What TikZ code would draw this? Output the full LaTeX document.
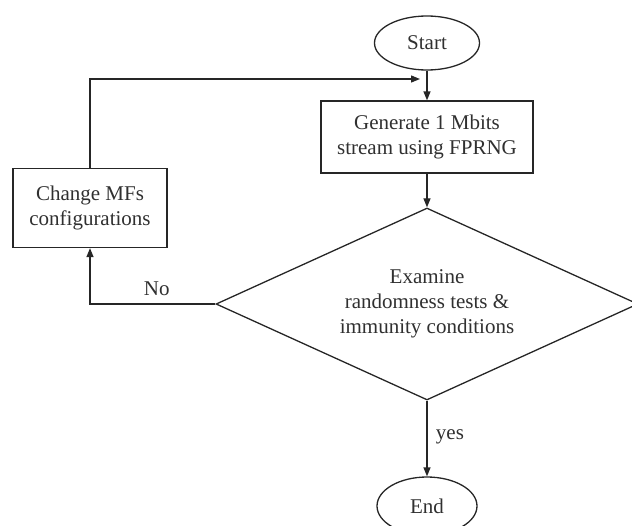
\documentclass[tikz,border=0pt]{standalone}
\usepackage{fontspec}
\setmainfont{Liberation Serif}
\usetikzlibrary{arrows.meta, shapes.geometric, positioning}
\definecolor{linecolor}{HTML}{262626}
\definecolor{textcolor}{HTML}{303030}

\begin{document}
\begin{tikzpicture}[
    x=1pt, y=-1pt,
    every node/.style={font=\fontsize{21}{25}\selectfont, text=textcolor},
    term/.style={draw=linecolor, line width=1.3pt, ellipse, inner sep=0pt},
    proc/.style={draw=linecolor, line width=1.3pt, rectangle, align=center, inner sep=0pt},
    test/.style={draw=linecolor, line width=1.3pt, diamond, aspect=2.2, align=center, inner sep=0pt},
    flow/.style={draw=linecolor, line width=1.3pt, -{Triangle[length=9pt, width=7pt]}},
]
\useasboundingbox (0,0) rectangle (632,525);

% ================================================================ the steps
\node[term, minimum width=105pt, minimum height=54pt] (start) at (427,43) {Start};
\node[proc, minimum width=212pt, minimum height=72pt] (gen) at (427,137)
    {Generate 1 Mbits\\stream using FPRNG};
\node[test, minimum width=422pt, minimum height=192pt] (exam) at (427,304)
    {Examine\\randomness tests \&\\immunity conditions};
\node[proc, minimum width=154pt, minimum height=79pt] (change) at (90,208)
    {Change MFs\\configurations};
\node[term, minimum width=100pt, minimum height=58pt] (finish) at (427,506) {End};

% ================================================================ the flow
\draw[flow] (start) -- (gen);
\draw[flow] (gen) -- (exam);

% back round to the generator
\coordinate (rejoin) at (420,79);
\draw[flow] (change.north) |- (rejoin);
\draw[flow] (exam.west) -| node[above, pos=0.25, xshift=4pt, yshift=4pt] {No} (change.south);

\draw[flow] (exam.south) -- node[right, xshift=5pt, yshift=2pt] {yes} (finish.north);
\end{tikzpicture}
\end{document}
